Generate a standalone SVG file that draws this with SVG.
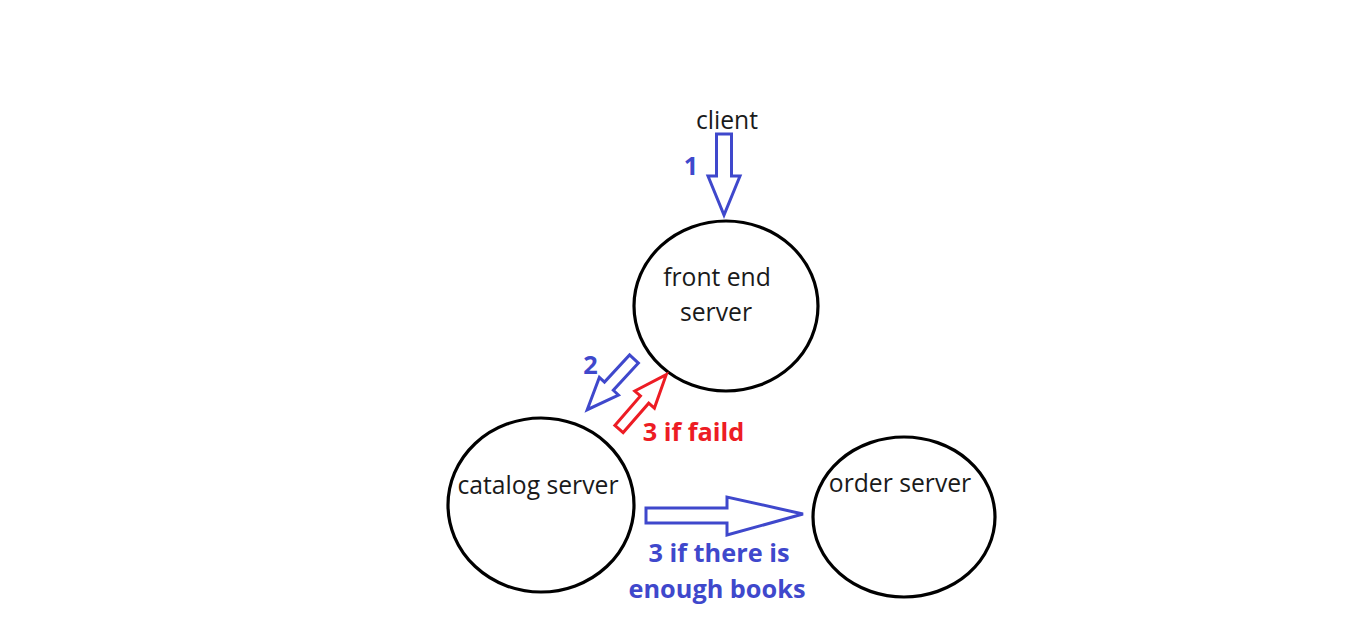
<svg xmlns="http://www.w3.org/2000/svg" width="1350" height="629" viewBox="0 0 1350 629">
  <style>
    .node { fill: #ffffff; stroke: #000000; stroke-width: 3.2; }
    .lbl { font-family: "Open Sans", "Noto Sans", "Liberation Sans", sans-serif; font-size: 24.7px; fill: #1a1a1a; text-anchor: middle; }
    .blue { fill: #ffffff; stroke: #3f48cc; stroke-width: 3; stroke-linejoin: miter; }
    .red { fill: #ffffff; stroke: #ed1c24; stroke-width: 3; stroke-linejoin: miter; }
    .tb { font-family: "Open Sans", "Noto Sans", "Liberation Sans", sans-serif; font-size: 25.3px; font-weight: bold; text-anchor: middle; fill: #3f48cc; }
    .tr { font-family: "Open Sans", "Noto Sans", "Liberation Sans", sans-serif; font-size: 25.3px; font-weight: bold; text-anchor: middle; fill: #ed1c24; }
  </style>
  <rect width="1350" height="629" fill="#ffffff"/>
  <g id="client">
    <text class="lbl" x="727" y="129">client</text>
  </g>
  <g id="front-end-server">
    <ellipse class="node" cx="726" cy="306" rx="92" ry="85"/>
    <text class="lbl" x="717" y="286">front end</text>
    <text class="lbl" x="716" y="321">server</text>
  </g>
  <g id="catalog-server">
    <ellipse class="node" cx="541" cy="505" rx="93" ry="87"/>
    <text class="lbl" x="538" y="494">catalog server</text>
  </g>
  <g id="order-server">
    <ellipse class="node" cx="904" cy="517" rx="91" ry="80"/>
    <text class="lbl" x="900" y="492">order server</text>
  </g>
  <g id="connectors">
    <polygon class="blue" points="0,-7.5 42,-7.5 42,-16 81,0 42,16 42,7.5 0,7.5" transform="translate(724,134) rotate(90)"/>
    <polygon class="blue" points="0,-6 37,-6 37,-13 69,0 37,13 37,6 0,6" transform="translate(634,359) rotate(132.7)"/>
    <polygon class="red" points="0,-5.5 39,-5.5 39,-13 72,0 39,13 39,5.5 0,5.5" transform="translate(619,429) rotate(-49)"/>
    <polygon class="blue" points="0,-7.5 81,-7.5 81,-18.5 157,-1.5 81,19.5 81,7.5 0,7.5" transform="translate(646,515.5)"/>
    <text class="tb" x="691" y="175">1</text>
    <text class="tb" x="590.5" y="374">2</text>
    <text class="tr" x="693.5" y="441">3 if faild</text>
    <text class="tb" x="719" y="562">3 if there is</text>
    <text class="tb" x="717" y="598">enough books</text>
  </g>
</svg>
